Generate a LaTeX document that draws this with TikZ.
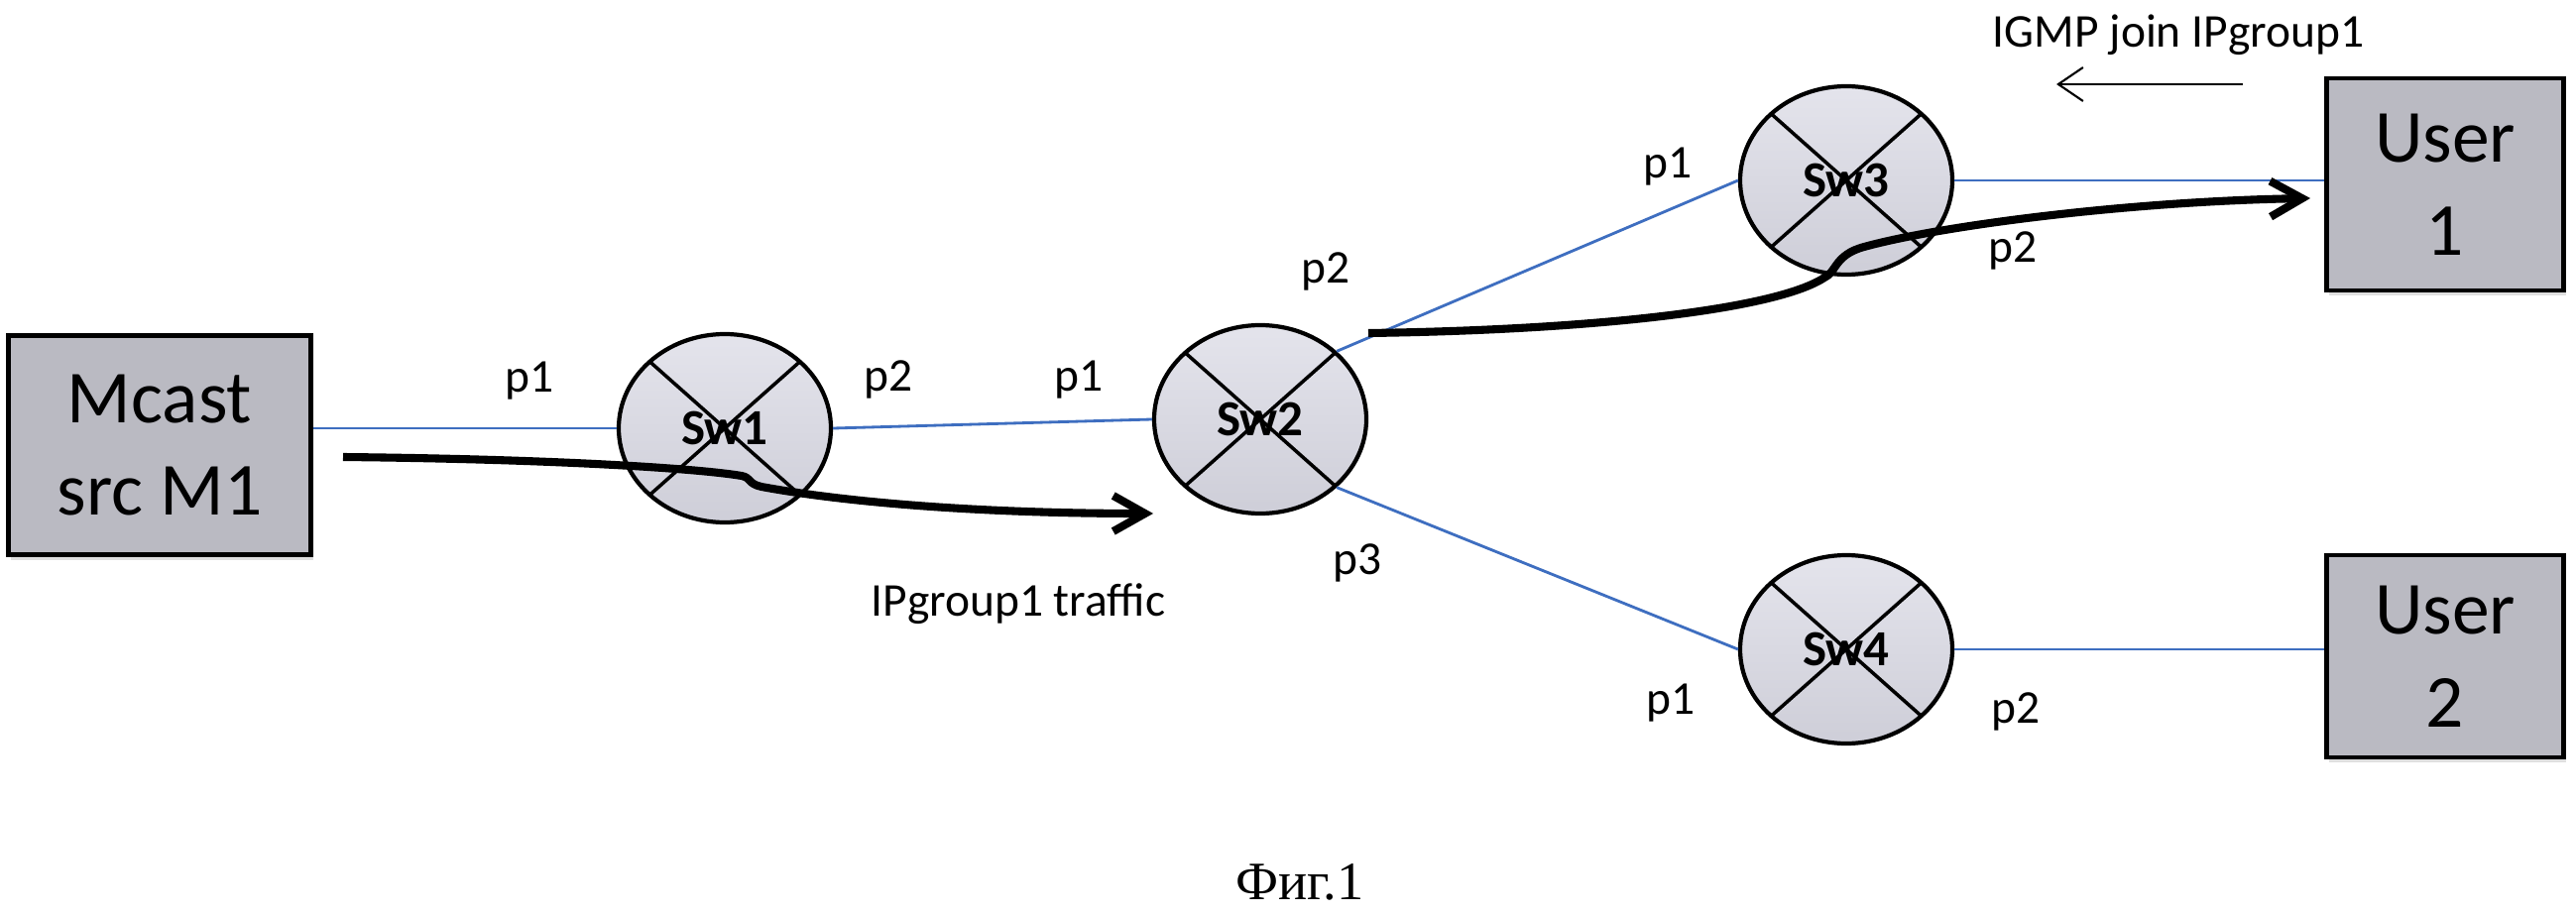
\documentclass[tikz,border=0pt]{standalone}
\usepackage{fontspec}
\setmainfont{Carlito}
\newfontfamily\capfont{Liberation Serif}
\usetikzlibrary{shapes.geometric,arrows.meta,shadows}

\definecolor{linkblue}{RGB}{62,110,192}
\definecolor{boxgray}{RGB}{186,186,194}
\definecolor{swtop}{RGB}{228,228,236}
\definecolor{swbot}{RGB}{206,206,216}

\begin{document}
\begin{tikzpicture}[
  host/.style={draw, line width=1.3pt, fill=boxgray, align=center, inner sep=0pt,
    font=\fontsize{21.5}{26.7}\selectfont,
    drop shadow={shadow xshift=0.02cm, shadow yshift=-0.05cm, opacity=0.25}},
  switch/.style={ellipse, draw, line width=1.2pt, top color=swtop, bottom color=swbot,
    minimum width=2.14cm, minimum height=1.9cm, inner sep=0pt,
    font=\fontsize{14.5}{16}\selectfont\bfseries,
    path picture={\draw[line width=1pt]
      (path picture bounding box.north west) -- (path picture bounding box.south east)
      (path picture bounding box.north east) -- (path picture bounding box.south west);}},
  link/.style={linkblue, line width=0.8pt},
  port/.style={font=\fontsize{13.5}{16}\selectfont},
  traffic/.style={line width=2.3pt, -{Straight Barb[length=3.2mm,width=3.6mm]}},
]
\fill[white] (0,0) rectangle (25.98,9.23);
\useasboundingbox (0,0) rectangle (25.98,9.23);

\node[host, minimum width=3.05cm, minimum height=2.21cm] (M1) at (1.61,4.74) {Mcast\\src M1};
\node[switch] (Sw1) at (7.31,4.91) {Sw1};
\node[switch] (Sw2) at (12.71,5.00) {Sw2};
\node[switch] (Sw3) at (18.62,7.41) {Sw3};
\node[switch] (Sw4) at (18.62,2.68) {Sw4};
\node[host, minimum width=2.39cm, minimum height=2.14cm] (U1) at (24.66,7.37) {User\\1};
\node[host, minimum width=2.39cm, minimum height=2.04cm] (U2) at (24.66,2.61) {User\\2};

\draw[link] (Sw1.west -| M1.east) -- (Sw1.west);
\draw[link] (Sw1.east) -- (Sw2.west);
\draw[link] (Sw2.north east) -- (Sw3.west);
\draw[link] (Sw2.south east) -- (Sw4.west);
\draw[link] (Sw3.east) -- (Sw3.east -| U1.west);
\draw[link] (Sw4.east) -- (Sw4.east -| U2.west);

\node[port] (a1) at (5.34,5.39) {p1};
\node[port] (a2) at (8.96,5.40) {p2};
\node[port] (b1) at (10.88,5.40) {p1};
\node[port] (b2) at (13.37,6.49) {p2};
\node[port] (b3) at (13.69,3.55) {p3};
\node[port] (c1) at (16.82,7.55) {p1};
\node[port] (c2) at (20.30,6.70) {p2};
\node[port] (d1) at (16.85,2.14) {p1};
\node[port] (d2) at (20.33,2.05) {p2};

% multicast stream
\coordinate (t1) at (3.46,4.62);
\coordinate (t2) at (11.63,4.05);
\draw[traffic] (t1) .. controls (5.5,4.60) and (7.0,4.51) .. (7.48,4.43)
  .. controls (7.58,4.41) and (7.54,4.35) .. (7.68,4.32)
  .. controls (8.6,4.15) and (10.0,4.05) .. (t2);
\node[port] (tr) at (10.27,3.14) {IPgroup1 traffic};

\coordinate (t3) at (13.80,5.87);
\coordinate (t4) at (23.30,7.23);
\draw[traffic] (t3) .. controls (16.0,5.90) and (17.9,6.10) .. (18.40,6.43)
  .. controls (18.52,6.48) and (18.50,6.66) .. (18.80,6.74)
  .. controls (19.6,6.96) and (21.5,7.20) .. (t4);

% join request
\node[port] (igmp) at (21.97,8.88) {IGMP join IPgroup1};
\coordinate (j1) at (22.62,8.38);
\coordinate (j2) at (20.74,8.38);
\draw[line width=0.6pt, -{Straight Barb[length=2.5mm,width=3.4mm]}] (j1) -- (j2);

\node[font=\capfont\fontsize{15.5}{18}\selectfont] (fig) at (13.11,0.33) {Фиг.1};

\end{tikzpicture}
\end{document}
